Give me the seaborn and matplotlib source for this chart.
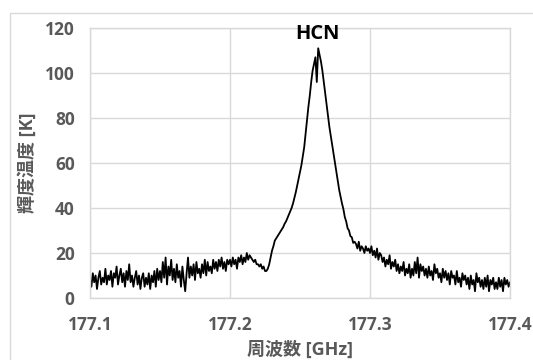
import numpy as np
import pandas as pd
import matplotlib
matplotlib.use("Agg")
import matplotlib.pyplot as plt
import seaborn as sns
from matplotlib.patches import Rectangle

# spectrum: one brightness temperature value per 1 MHz channel, 177.100 .. 177.400 GHz
freq_start = 177.1
freq_step = 0.001
temp_k = [
    8, 5, 11, 7, 10, 4, 9, 12, 6, 9,
    7, 13, 6, 10, 8, 12, 5, 11, 9, 14,
    6, 10, 13, 7, 11, 5, 12, 8, 15, 7,
    10, 5, 9, 12, 6, 10, 4, 9, 11, 5,
    9, 6, 11, 4, 10, 7, 12, 5, 13, 8,
    12, 7, 16, 9, 18, 6, 14, 10, 17, 8,
    13, 7, 15, 9, 12, 5, 14, 8, 3, 11,
    18, 9, 14, 10, 15, 8, 16, 11, 13, 9,
    15, 11, 17, 10, 16, 12, 14, 11, 17, 13,
    16, 12, 17, 14, 18, 13, 16, 12, 17, 15,
    17, 14, 18, 15, 17, 13, 18, 16, 19, 15,
    18, 16, 20, 17, 19, 18, 17, 16, 17, 15,
    15, 14, 15, 13, 14, 12, 12, 13, 15, 18,
    21, 23, 25.5, 26.5, 27.5, 28.5, 29.5, 30.5, 31.5, 33,
    34, 35.5, 37, 38.5, 40, 42, 44.5, 47, 50, 53,
    56, 59, 63, 67, 73, 79, 85, 90, 96, 101,
    104, 107, 96, 111, 108, 105, 101, 96, 91, 86,
    81, 76, 72, 68, 64, 60, 56, 52, 48, 45,
    42, 39.5, 36, 34, 31, 30, 27.5, 27, 24.5, 25,
    24, 22, 25, 21, 23, 22, 20, 23, 21, 22,
    20, 23, 19, 21, 18, 22, 17, 20, 19, 16,
    18, 14, 17, 15, 19, 13, 16, 14, 17, 12,
    15, 11, 14, 12, 16, 10, 13, 11, 15, 9,
    13, 10, 16, 11, 18, 9, 15, 12, 14, 10,
    13, 9, 14, 10, 12, 8, 15, 11, 13, 9,
    11, 7, 13, 9, 12, 8, 11, 6, 12, 9,
    10, 6, 12, 7, 9, 5, 11, 8, 10, 6,
    9, 4, 10, 6, 8, 3, 11, 7, 9, 5,
    8, 4, 9, 5, 10, 3, 8, 6, 9, 4,
    7, 4, 9, 5, 8, 3, 9, 6, 8, 5,
    7,
]
x_ticks = [177.1, 177.2, 177.3, 177.4]
y_ticks = [0, 20, 40, 60, 80, 100, 120]
peak_label = "HCN"

freq = freq_start + freq_step * np.arange(len(temp_k))
df = pd.DataFrame({"freq": freq, "temp": temp_k})

sns.set_theme(style="white")
plt.rcParams["font.family"] = ["Open Sans", "Noto Sans CJK JP", "DejaVu Sans"]
grey = "#595959"
grid_c = "#d9d9d9"

fig = plt.figure(figsize=(5.33, 3.6), dpi=100)
ax = fig.add_axes([90 / 533, 1 - 298 / 360, 420 / 533, 270 / 360])

# outer chart frame
fig.patches.append(Rectangle((10 / 533, -0.1), 1.2, 1 - 13 / 360 + 0.1, transform=fig.transFigure,
                             fill=False, edgecolor=grid_c, linewidth=1.0))

sns.lineplot(data=df, x="freq", y="temp", ax=ax, color="black", linewidth=1.3, estimator=None)

ax.set_xlim(177.1, 177.4)
ax.set_ylim(0, 120)
ax.set_xticks(x_ticks)
ax.set_yticks(y_ticks)
ax.set_xticklabels([f"{v:.1f}" for v in x_ticks])
ax.grid(True, color=grid_c, linewidth=1.0)
ax.set_axisbelow(True)
for s in ax.spines.values():
    s.set_color(grid_c)
    s.set_linewidth(1.0)
ax.tick_params(axis="both", length=0, labelsize=12.5, labelcolor=grey)
ax.tick_params(axis="y", pad=11)
ax.tick_params(axis="x", pad=13)
for lab in ax.get_xticklabels() + ax.get_yticklabels():
    lab.set_fontweight("bold")

ax.set_xlabel("周波数 [GHz]", fontsize=13, color=grey, fontweight="bold", labelpad=5)
ax.set_ylabel("輝度温度 [K]", fontsize=13, color=grey, fontweight="bold", labelpad=6)

ax.text(177.2625, 117.5, peak_label, ha="center", va="center", fontsize=14.5, fontweight="bold", color="black")

fig.savefig("out.png", dpi=100)
